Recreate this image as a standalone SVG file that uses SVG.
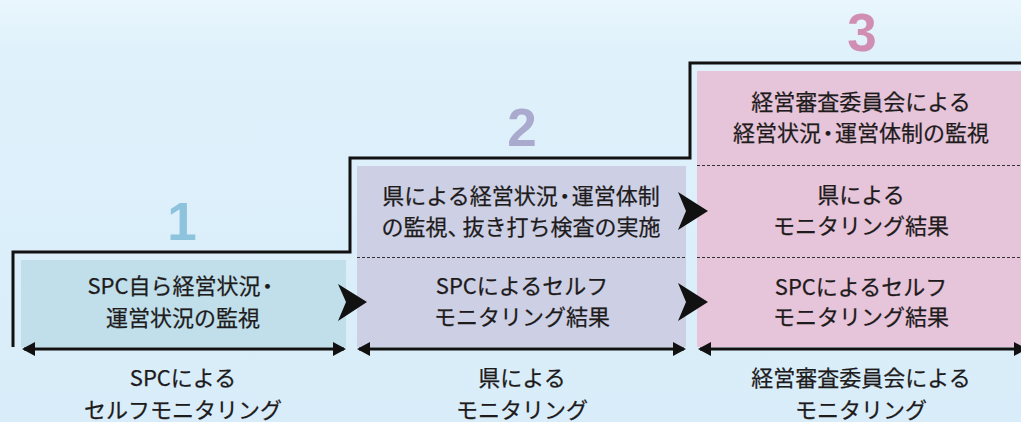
<svg xmlns="http://www.w3.org/2000/svg" width="1021" height="422" viewBox="0 0 1021 422">
<defs>
<linearGradient id="bg" x1="0" y1="0" x2="0" y2="1">
<stop offset="0" stop-color="#e9f6fd"/>
<stop offset="0.12" stop-color="#dff1fb"/>
<stop offset="1" stop-color="#d8edf9"/>
</linearGradient>
<marker id="ah" viewBox="0 0 13 14" refX="11" refY="7" markerWidth="13" markerHeight="14" markerUnits="userSpaceOnUse" orient="auto-start-reverse">
<path d="M0,0 L13,7 L0,14 Z" fill="#111"/>
</marker>
<style>
.t{font-family:"Noto Sans CJK JP","Noto Sans",sans-serif;font-size:22px;font-weight:400;fill:#1e1b1c;stroke:#1e1b1c;stroke-width:0.25;text-anchor:middle}
.nd{letter-spacing:-4px}
.nc{letter-spacing:-7px}
.num{font-family:"Liberation Sans","DejaVu Sans",sans-serif;font-weight:bold;font-size:53px;text-anchor:middle}
.dash{stroke:#333;stroke-width:1.2;stroke-dasharray:3 2;fill:none}
.span{stroke:#111;stroke-width:3;fill:none;marker-start:url(#ah);marker-end:url(#ah)}
.chev{fill:#111}
</style>
</defs>
<rect width="1021" height="422" fill="url(#bg)"/>

<path id="steps" d="M13,347 L13,252 L350,252 L350,158 L690,158 L690,63 L1021,63" fill="none" stroke="#111" stroke-width="3"/>

<g id="step1">
<text class="num" x="182" y="240" fill="#8dc3dc">1</text>
<rect x="21" y="260" width="325" height="87" fill="#c0dfea"/>
<text class="t" x="183" y="294">SPC自ら経営状<tspan class="nd">況</tspan>・</text>
<text class="t" x="183" y="326">運営状況の監視</text>
<text class="t" x="183" y="386">SPCによる</text>
<text class="t" x="183" y="418">セルフモニタリング</text>
</g>

<g id="step2">
<text class="num" x="522" y="146" fill="#a9aacd">2</text>
<rect x="357" y="166" width="329" height="181" fill="#cdd0e4"/>
<line class="dash" x1="357" y1="257.5" x2="686" y2="257.5"/>
<text class="t" x="521" y="204">県による経営状<tspan class="nd">況・</tspan>運営体制</text>
<text class="t" x="521" y="235">の監視<tspan class="nc">、</tspan>抜き打ち検査の実施</text>
<text class="t" x="522" y="294">SPCによるセルフ</text>
<text class="t" x="522" y="325">モニタリング結果</text>
<text class="t" x="522" y="386">県による</text>
<text class="t" x="522" y="418">モニタリング</text>
</g>

<g id="step3">
<text class="num" x="862" y="51" fill="#d08fb2">3</text>
<rect x="697" y="71" width="324" height="276" fill="#e6c4d9"/>
<line class="dash" x1="697" y1="165.5" x2="1021" y2="165.5"/>
<line class="dash" x1="697" y1="257.5" x2="1021" y2="257.5"/>
<text class="t" x="861" y="110">経営審査委員会による</text>
<text class="t" x="861" y="141">経営状<tspan class="nd">況・</tspan>運営体制の監視</text>
<text class="t" x="861" y="203">県による</text>
<text class="t" x="861" y="234">モニタリング結果</text>
<text class="t" x="861" y="295">SPCによるセルフ</text>
<text class="t" x="861" y="325">モニタリング結果</text>
<text class="t" x="861" y="386">経営審査委員会による</text>
<text class="t" x="861" y="418">モニタリング</text>
</g>

<g id="connectors">
<path class="chev" d="M338,284 L367,302 L338,321 L346,302 Z"/>
<path class="chev" d="M678,192 L708,211 L678,230 L686,211 Z"/>
<path class="chev" d="M678,283 L708,302 L678,321 L686,302 Z"/>
<line class="span" x1="24" y1="349" x2="344" y2="349"/>
<line class="span" x1="359" y1="349" x2="684" y2="349"/>
<line class="span" x1="700" y1="349" x2="1025" y2="349"/>
</g>
</svg>
